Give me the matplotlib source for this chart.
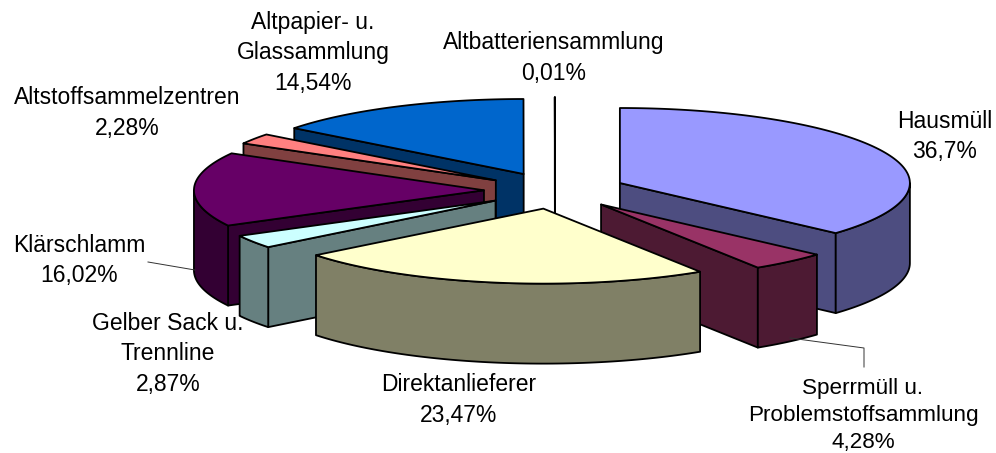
import numpy as np
import matplotlib
matplotlib.use('Agg')
import matplotlib.pyplot as plt
from matplotlib.patches import Polygon

plt.rcParams['font.family'] = ['Liberation Sans', 'DejaVu Sans']

# Anteile in Prozent, im Uhrzeigersinn ab 12 Uhr
names = ['Hausmüll', 'Sperrmüll', 'Direktanlieferer', 'Gelber Sack', 'Klärschlamm',
         'Altstoffsammelzentren', 'Altpapier', 'Altbatterien']
values = [36.7, 4.28, 23.47, 2.87, 16.02, 2.28, 14.54, 0.01]
top_colors = ['#9999FF', '#993366', '#FFFFCC', '#CCFFFF', '#660066', '#FF8080', '#0066CC', '#CCCCFF']
side_colors = ['#4D4D80', '#4D1A33', '#808066', '#668080', '#330033', '#804040', '#003366', '#666680']
labels = ['Hausmüll\n36,7%', 'Sperrmüll u.\nProblemstoffsammlung\n4,28%', 'Direktanlieferer\n23,47%',
          'Gelber Sack u.\nTrennline\n2,87%', 'Klärschlamm\n16,02%', 'Altstoffsammelzentren\n2,28%',
          'Altpapier- u.\nGlassammlung\n14,54%', 'Altbatteriensammlung\n0,01%']
label_x = [945, 863, 459, 168, 79, 127, 313, 554]
label_y = [136.5, 415.5, 400, 354, 260.5, 113, 53, 58]
label_size = [16.5, 16.2, 16.5, 16.5, 16.5, 16.5, 16.5, 16.5]

# Zeichenreihenfolge: von hinten nach vorne
draw_order = [7, 6, 5, 0, 4, 3, 1, 2]

# Geometrie der Torte in Pixeln
cx, cy = 555, 190.5
rx, ry = 290, 75
depth = 80
explode = 0.245
lw = 1.3


def point(ox, oy, a):
    return ox + rx * np.sin(a), oy - ry * np.cos(a)


def draw_slice(ax, a1, a2, top, side):
    mid = (a1 + a2) / 2
    ox = cx + explode * rx * np.sin(mid)
    oy = cy - explode * ry * np.cos(mid)
    style = dict(edgecolor='black', linewidth=lw, joinstyle='round')

    # Schnittflächen, nur die sichtbaren
    for a, visible in ((a1, np.sin(a1) < 0), (a2, np.sin(a2) > 0)):
        if visible:
            px, py = point(ox, oy, a)
            ax.add_patch(Polygon([(ox, oy), (px, py), (px, py + depth), (ox, oy + depth)],
                                 facecolor=side, **style))

    # Außenwand, nur der vordere Teil
    w1, w2 = max(a1, np.pi / 2), min(a2, 3 * np.pi / 2)
    if w2 > w1:
        t = np.linspace(w1, w2, 80)
        xs, ys = point(ox, oy, t)
        pts = list(zip(xs, ys)) + list(zip(xs[::-1], ys[::-1] + depth))
        ax.add_patch(Polygon(pts, facecolor=side, **style))

    # Deckfläche
    t = np.linspace(a1, a2, 120)
    xs, ys = point(ox, oy, t)
    ax.add_patch(Polygon([(ox, oy)] + list(zip(xs, ys)), facecolor=top, **style))


fig = plt.figure(figsize=(9.96, 4.53), dpi=100)
ax = fig.add_axes([0, 0, 1, 1])
ax.set_xlim(0, 996)
ax.set_ylim(453, 0)
ax.axis('off')

edges = np.cumsum([0] + values) / sum(values) * 2 * np.pi
for i in draw_order:
    draw_slice(ax, edges[i], edges[i + 1], top_colors[i], side_colors[i])

# Führungslinien
ax.plot([148, 195], [262, 270], color='#333333', lw=0.7)
ax.plot([790, 864, 864], [338, 348, 367], color='#333333', lw=0.7)

for text, x, y, size in zip(labels, label_x, label_y, label_size):
    ax.text(x, y, text, ha='center', va='center', fontsize=size, color='black', linespacing=1.39)

fig.savefig('out.png', dpi=100)
